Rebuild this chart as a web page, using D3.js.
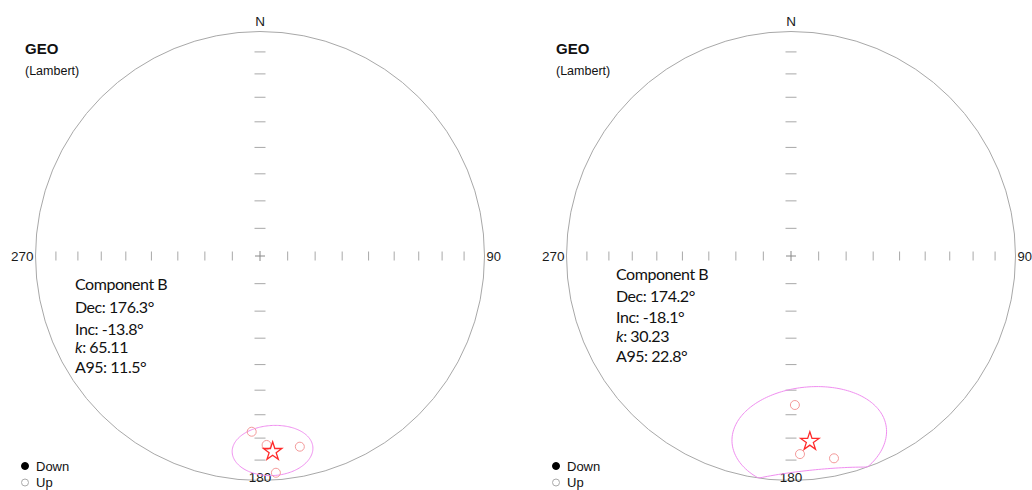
<!DOCTYPE html>
<html><head><meta charset="utf-8">
<script src="https://cdn.jsdelivr.net/npm/d3@7"></script>
<style>
html,body{margin:0;padding:0;background:#fff;}
svg{display:block;}
</style></head><body>
<svg id="chart" width="1032" height="490"></svg>
<script>
// Mean directions (Component B) for the two stereonets
const meanDec = [176.3, 174.2];
const meanInc = [-13.8, -18.1];
const kappa = ["65.11", "30.23"];
const alpha95 = [11.5, 22.8];
// Individual directions (negative inclination = upper hemisphere)
const leftDec = [182.7, 178.0, 168.2, 175.8];
const leftInc = [-22.7, -16.9, -14.3, -3.6];
const rightDec = [178.5, 177.4, 168.0];
const rightInc = [-34.0, -12.7, -8.7];
// Grid ticks every 10° of inclination along the four cardinal axes
const tickIncs = [10, 20, 30, 40, 50, 60, 70, 80];
const axisDirs = [0, 90, 180, 270];
const axisNames = ["N", "90", "180", "270"];
const legendItems = ["Down", "Up"];
const frameTitle = "GEO";
const projName = "(Lambert)";
const componentName = "Component B";

const svg = d3.select("#chart");
svg.append("rect").attr("width", 1032).attr("height", 490).attr("fill", "#fff");

const R = 224.5;
const centersX = [260, 791];
const cy = 256;
const rad = Math.PI / 180;

// Lambert equal-area: r^2 proportional to (1 - sin|I|)
const rScale = d3.scaleSqrt().domain([0, 1]).range([0, R]);
function project(dec, inc) {
  const r = rScale(1 - Math.sin(Math.abs(inc) * rad));
  return [r * Math.sin(dec * rad), -r * Math.cos(dec * rad)];
}

// Small circle of confidence around a mean direction
function cone(dec, inc, a) {
  const D = dec * rad, I = inc * rad, A = a * rad;
  const m = [Math.cos(I) * Math.cos(D), Math.cos(I) * Math.sin(D), Math.sin(I)];
  const u = [-Math.sin(I) * Math.cos(D), -Math.sin(I) * Math.sin(D), Math.cos(I)];
  const v = [-Math.sin(D), Math.cos(D), 0];
  return d3.range(0, 360, 2).map(t => {
    const T = t * rad;
    const p = [0, 1, 2].map(j => Math.cos(A) * m[j] + Math.sin(A) * (Math.cos(T) * u[j] + Math.sin(T) * v[j]));
    const d = Math.atan2(p[1], p[0]) / rad;
    const i = Math.asin(Math.max(-1, Math.min(1, p[2]))) / rad;
    return project(d, i);
  });
}

const siteDecs = [leftDec, rightDec];
const siteIncs = [leftInc, rightInc];
const textX = [-185, -175];
const textBase = [[290, 312.5, 334.5, 353, 372.5], [280, 301.5, 322.5, 342, 361.5]];
const gridColor = "#a8a8a8";

centersX.forEach((cx, p) => {
  const g = svg.append("g").attr("transform", `translate(${cx},${cy})`);

  g.append("circle").attr("r", R).attr("fill", "none").attr("stroke", gridColor).attr("stroke-width", 1);

  // inclination ticks
  axisDirs.forEach(dir => {
    tickIncs.forEach(inc => {
      const [x, y] = project(dir, inc);
      const horiz = dir === 0 || dir === 180;
      g.append("line")
        .attr("x1", horiz ? x - 5.5 : x).attr("x2", horiz ? x + 5.5 : x)
        .attr("y1", horiz ? y : y - 4.5).attr("y2", horiz ? y : y + 4.5)
        .attr("stroke", gridColor).attr("stroke-width", 1);
    });
  });
  // centre cross
  g.append("line").attr("x1", -5).attr("x2", 5).attr("y1", 0).attr("y2", 0).attr("stroke", "#888");
  g.append("line").attr("x1", 0).attr("x2", 0).attr("y1", -5).attr("y2", 5).attr("stroke", "#888");

  // cardinal labels
  const lab = g.append("g").attr("font-family", "'Liberation Sans', Arial, sans-serif")
    .attr("font-size", 13.5).attr("fill", "#1a1a1a");
  lab.append("text").attr("x", 0).attr("y", -R - 5.5).attr("text-anchor", "middle").text(axisNames[0]);
  lab.append("text").attr("x", R + 2).attr("y", 5).attr("text-anchor", "start")
    .attr("font-size", 13).text(axisNames[1]);
  lab.append("text").attr("x", 0).attr("y", R + 1.5).attr("text-anchor", "middle").text(axisNames[2]);
  lab.append("text").attr("x", -R - 2).attr("y", 5).attr("text-anchor", "end").text(axisNames[3]);

  // confidence ellipse
  g.append("path")
    .attr("d", d3.line().curve(d3.curveLinearClosed)(cone(meanDec[p], meanInc[p], alpha95[p])))
    .attr("fill", "none").attr("stroke", "#f08ef0").attr("stroke-width", 1);

  // individual directions
  siteDecs[p].forEach((d, j) => {
    const inc = siteIncs[p][j];
    const [x, y] = project(d, inc);
    g.append("circle").attr("cx", x).attr("cy", y).attr("r", 4.5)
      .attr("fill", inc < 0 ? "none" : "#f08080")
      .attr("stroke", "#f49a9a").attr("stroke-width", 1);
  });

  // mean direction
  const [mx, my] = project(meanDec[p], meanInc[p]);
  g.append("path").attr("d", d3.symbol().type(d3.symbolStar).size(105)())
    .attr("transform", `translate(${mx},${my})`)
    .attr("fill", "none").attr("stroke", "#ff2a2a").attr("stroke-width", 1.3);

  // statistics block
  const tx = textX[p];
  const st = g.append("g").attr("font-family", "Lato, 'Open Sans', sans-serif")
    .attr("font-size", 16).attr("letter-spacing", "-0.45px").attr("fill", "#111");
  const tb = textBase[p];
  st.append("text").attr("x", tx).attr("y", tb[0] - cy).text(componentName);
  st.append("text").attr("x", tx).attr("y", tb[1] - cy).text(`Dec: ${meanDec[p].toFixed(1)}°`);
  st.append("text").attr("x", tx).attr("y", tb[2] - cy).text(`Inc: ${meanInc[p].toFixed(1)}°`);
  const kt = st.append("text").attr("x", tx).attr("y", tb[3] - cy);
  kt.append("tspan").attr("font-style", "italic").text("k");
  kt.append("tspan").text(`: ${kappa[p]}`);
  st.append("text").attr("x", tx).attr("y", tb[4] - cy).text(`A95: ${alpha95[p].toFixed(1)}°`);

  // frame title
  const lx = cx - 235;
  svg.append("text").attr("x", lx).attr("y", 54)
    .attr("font-family", "'Liberation Sans', Arial, sans-serif").attr("font-weight", "bold")
    .attr("font-size", 15).attr("fill", "#111").text(frameTitle);
  svg.append("text").attr("x", lx).attr("y", 75)
    .attr("font-family", "'Liberation Sans', Arial, sans-serif")
    .attr("font-size", 12.5).attr("fill", "#111").text(projName);

  // legend
  const lg = svg.append("g").attr("font-family", "'Liberation Sans', Arial, sans-serif")
    .attr("font-size", 13).attr("fill", "#111");
  legendItems.forEach((name, j) => {
    const y = 466 + j * 16.5;
    lg.append("circle").attr("cx", lx).attr("cy", y).attr("r", 3.5)
      .attr("fill", j === 0 ? "#000" : "#fff")
      .attr("stroke", j === 0 ? "#000" : "#aaa").attr("stroke-width", 1);
    lg.append("text").attr("x", lx + 11).attr("y", y + 4.5).text(name);
  });
});
</script>
</body></html>
